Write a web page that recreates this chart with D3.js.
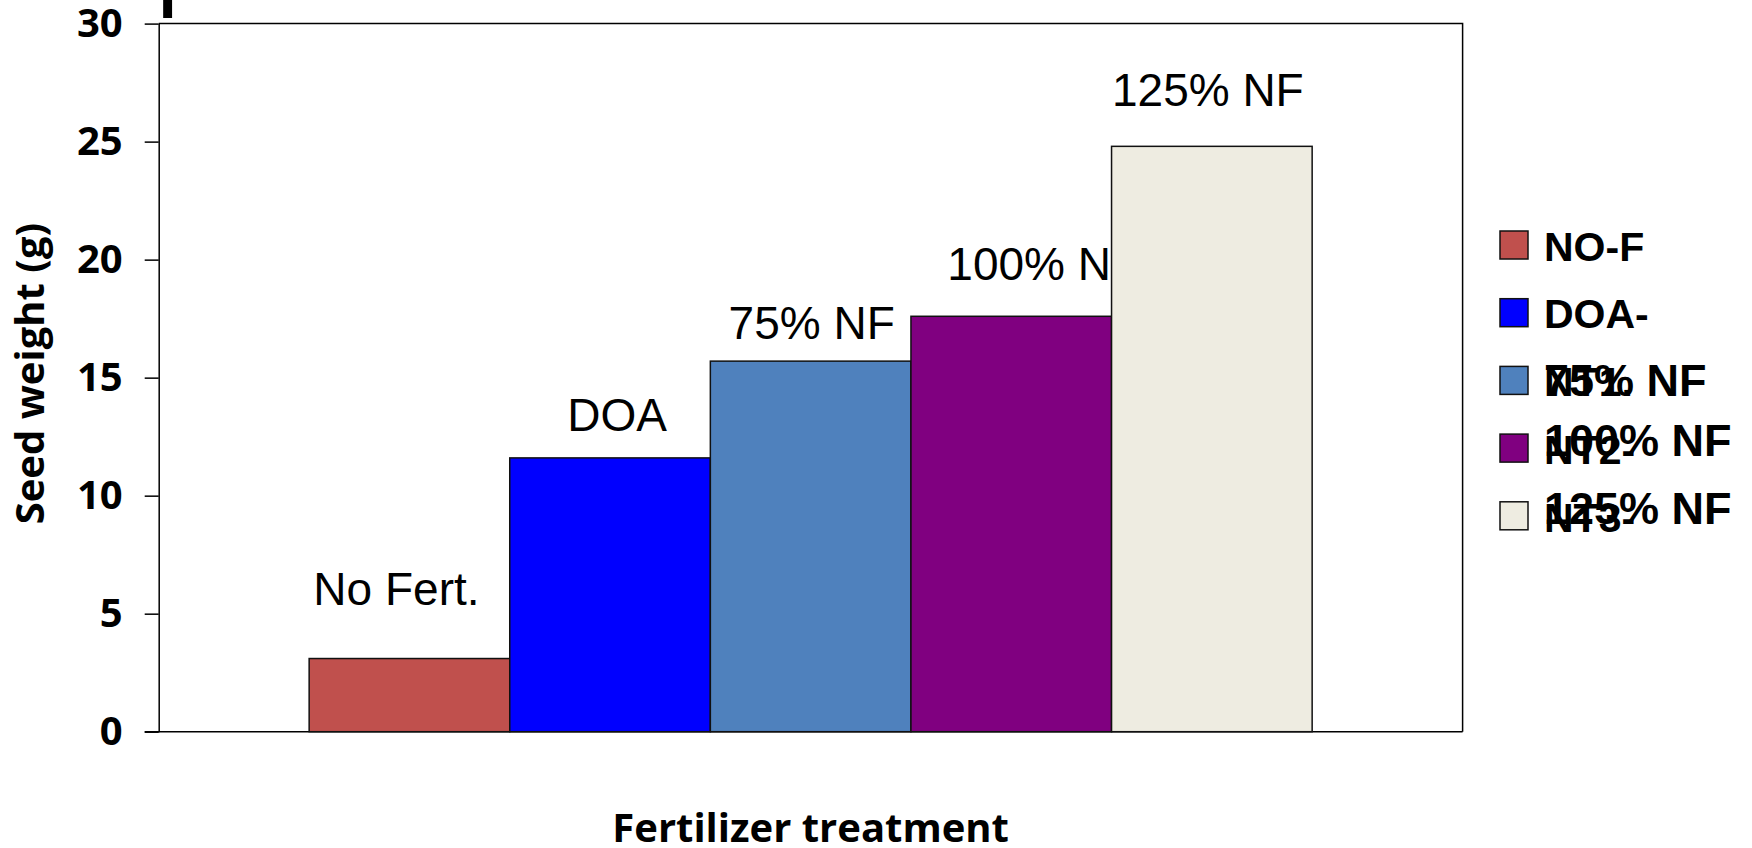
<!DOCTYPE html>
<html>
<head>
<meta charset="utf-8">
<script src="https://cdn.jsdelivr.net/npm/d3@7"></script>
<style>
  body { margin: 0; background: #fff; }
  svg { display: block; }
  .axis text { font-family: "Open Sans", sans-serif; font-weight: 700; font-size: 40px; fill: #000; }
  .axis path, .axis line { stroke: #000; stroke-width: 1.5; }
  .title { font-family: "Open Sans", sans-serif; font-weight: 700; font-size: 40px; fill: #000; }
  .barlabel { font-family: "Liberation Sans", Arial, sans-serif; font-size: 46px; fill: #000; }
  .legend text { font-family: "Liberation Sans", Arial, sans-serif; font-weight: 700; font-size: 41px; fill: #000; }
</style>
</head>
<body>
<svg width="1752" height="848"></svg>
<script>
// data
var barLabels = ["No Fert.", "DOA", "75% NF", "100% NF", "125% NF"];
var legendLabels = ["NO-F", "DOA-", "75% NF", "100% NF", "125% NF"];
var legendWrapped = ["", "", "NT1.", "NT2-", "NT3-"];
var seedWeight = [3.1, 11.6, 15.7, 17.6, 24.8];
var barColors = ["#C0504D", "#0000FF", "#4F81BD", "#800080", "#EEECE1"];
var yTicks = [0, 5, 10, 15, 20, 25, 30];

// label offsets from the bar top centre, in pixels
var labelNudge = [[-13, -54], [7, -27], [1, -22], [32, -36], [-4, -40]];

var svg = d3.select("svg"),
    margin = {top: 23.6, right: 289.4, bottom: 116.3, left: 158.7},
    width = +svg.attr("width") - margin.left - margin.right,
    height = +svg.attr("height") - margin.top - margin.bottom,
    g = svg.append("g").attr("transform", "translate(" + margin.left + "," + margin.top + ")");

var x = d3.scaleBand()
    .domain(barLabels)
    .range([0, width])
    .paddingInner(0)
    .paddingOuter(0.75);

var y = d3.scaleLinear()
    .domain([0, 30])
    .range([height, 0]);

var bars = barLabels.map(function (d, i) {
    return {label: d, value: seedWeight[i], color: barColors[i], nudge: labelNudge[i]};
});

// plot frame (top and right)
g.append("path")
    .attr("d", "M0,0H" + width + "V" + height)
    .attr("fill", "none")
    .attr("stroke", "#000")
    .attr("stroke-width", 1.5);

// x axis line only
g.append("g")
    .attr("class", "axis")
    .attr("transform", "translate(0," + height + ")")
    .call(d3.axisBottom(x).tickSize(0).tickFormat(""))
    .select(".domain")
    .attr("d", "M-14,0H" + width);

g.append("g")
    .attr("class", "axis")
    .call(d3.axisLeft(y).tickValues(yTicks).tickSize(14).tickPadding(22).tickSizeOuter(0));

// labels first, the 125% bar covers the end of "100% NF"
g.selectAll(".barlabel")
    .data(bars)
    .enter().append("text")
    .attr("class", "barlabel")
    .attr("text-anchor", "middle")
    .attr("x", function (d) { return x(d.label) + x.bandwidth() / 2 + d.nudge[0]; })
    .attr("y", function (d) { return y(d.value) + d.nudge[1]; })
    .text(function (d) { return d.label; });

g.selectAll(".bar")
    .data(bars)
    .enter().append("rect")
    .attr("class", "bar")
    .attr("x", function (d) { return x(d.label); })
    .attr("y", function (d) { return y(d.value); })
    .attr("width", x.bandwidth())
    .attr("height", function (d) { return height - y(d.value); })
    .attr("fill", function (d) { return d.color; })
    .attr("stroke", "#111")
    .attr("stroke-width", 1.5);

// axis titles
svg.append("text")
    .attr("class", "title")
    .attr("text-anchor", "middle")
    .attr("x", margin.left + width / 2)
    .attr("y", 842)
    .text("Fertilizer treatment");

svg.append("text")
    .attr("class", "title")
    .attr("text-anchor", "middle")
    .attr("transform", "translate(44," + (margin.top + height / 2 - 4) + ") rotate(-90)")
    .text("Seed weight (g)");

// clipped fragment at the top left
svg.append("text")
    .attr("x", 159)
    .attr("y", 18)
    .style("font-family", "Liberation Sans, Arial, sans-serif")
    .style("font-weight", 700)
    .style("font-size", "62px")
    .text("I");

// legend
var legend = svg.append("g")
    .attr("class", "legend")
    .attr("transform", "translate(1500,231)");

var item = legend.selectAll("g")
    .data(legendLabels)
    .enter().append("g")
    .attr("transform", function (d, i) { return "translate(0," + (i * 67.7) + ")"; });

item.append("rect")
    .attr("width", 28)
    .attr("height", 28)
    .attr("fill", function (d, i) { return barColors[i]; })
    .attr("stroke", "#111")
    .attr("stroke-width", 1.5);

item.append("text")
    .attr("x", 44)
    .attr("y", function (d, i) { return i > 2 ? 22 : 29.5; })
    .style("font-size", function (d, i) { return i > 1 ? "45px" : null; })
    .text(function (d) { return d; });

item.append("text")
    .attr("x", 44)
    .attr("y", function (d, i) { return i > 2 ? 30 : 29.5; })
    .text(function (d, i) { return legendWrapped[i]; });
</script>
</body>
</html>
